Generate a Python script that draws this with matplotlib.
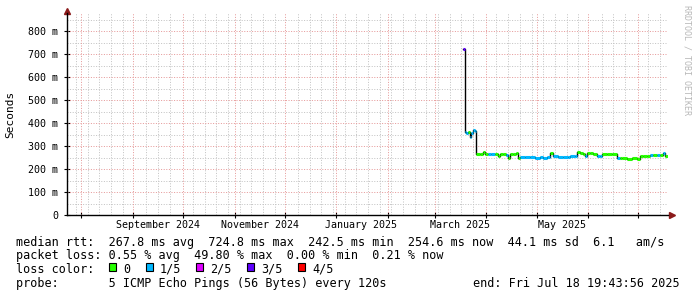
import matplotlib
matplotlib.use("Agg")
import matplotlib.pyplot as plt
import matplotlib.dates as mdates
import matplotlib.transforms as mtransforms
from matplotlib.patches import Rectangle

# median rtt (ms) with packet loss class (0..4 of 5 pings)
dates = ["2025-03-18", "2025-03-19", "2025-03-20", "2025-03-21", "2025-03-22",
         "2025-03-23", "2025-03-24", "2025-03-25", "2025-03-26", "2025-03-28",
         "2025-03-30", "2025-03-31", "2025-04-02", "2025-04-04", "2025-04-06",
         "2025-04-08", "2025-04-09", "2025-04-11", "2025-04-13", "2025-04-14",
         "2025-04-15", "2025-04-17", "2025-04-19", "2025-04-20", "2025-04-21",
         "2025-04-24", "2025-04-27", "2025-04-30", "2025-05-03", "2025-05-05",
         "2025-05-07", "2025-05-09", "2025-05-11", "2025-05-14", "2025-05-17",
         "2025-05-20", "2025-05-21", "2025-05-24", "2025-05-25", "2025-05-27",
         "2025-05-29", "2025-05-30", "2025-05-31", "2025-06-02", "2025-06-04",
         "2025-06-06", "2025-06-08", "2025-06-09", "2025-06-12", "2025-06-15",
         "2025-06-18", "2025-06-20", "2025-06-21", "2025-06-24", "2025-06-27",
         "2025-06-30", "2025-07-02", "2025-07-04", "2025-07-06", "2025-07-08",
         "2025-07-10", "2025-07-12", "2025-07-14", "2025-07-16", "2025-07-17"]
median_ms = [724.8, 360, 358, 362, 340, 356, 372, 365, 266, 265,
             274, 266, 264, 265, 266, 258, 265, 266, 262, 250,
             267, 266, 268, 247, 253, 252, 254, 250, 253, 248,
             252, 271, 255, 253, 254, 252, 258, 259, 274, 272,
             267, 258, 268, 268, 266, 258, 259, 265, 267, 266,
             250, 249, 247, 246, 247, 244, 255, 257, 258, 261,
             260, 262, 261, 268, 259]
loss = [3, 1, 1, 0, 1, 1, 1, 1, 0, 0,
        0, 0, 1, 1, 0, 0, 0, 0, 1, 0,
        0, 0, 0, 0, 1, 1, 1, 1, 1, 1,
        1, 0, 1, 1, 1, 1, 1, 1, 0, 0,
        0, 1, 0, 0, 0, 1, 1, 0, 0, 0,
        1, 0, 0, 0, 0, 0, 0, 0, 0, 1,
        0, 1, 0, 1, 0]

loss_colors = ["#26ff00", "#00b8ff", "#dd00ff", "#5e00ff", "#ff0000"]
loss_names = ["0", "1/5", "2/5", "3/5", "4/5"]
y_ticks = [0, 100, 200, 300, 400, 500, 600, 700, 800]
month_labels = ["September 2024", "November 2024", "January 2025", "March 2025", "May 2025"]
month_label_dates = ["2024-09-16", "2024-11-16", "2025-01-16", "2025-03-16", "2025-05-16"]

t_start = mdates.datestr2num("2024-07-23 06:00")
t_end = mdates.datestr2num("2025-07-18 19:43:56")
d_start = mdates.num2date(t_start)
d_end = mdates.num2date(t_end)

mono = "DejaVu Sans Mono"
W, H = 697, 297
fig = plt.figure(figsize=(W / 100, H / 100), dpi=100)
fig.patch.set_facecolor("white")
ax = fig.add_axes([66.5 / W, (H - 215) / H, 601.5 / W, 202 / H])
ax.set_xlim(t_start, t_end)
ax.set_ylim(0, 880)
ax.set_facecolor("white")

# grid: gray minor (weekly / 50 ms), red major (monthly / 100 ms)
minor_c = "#c4c4c4"
major_c = "#e69a9a"
dots = (0, (1, 1.6))
weeks = mdates.WeekdayLocator(byweekday=mdates.MO).tick_values(d_start, d_end)
months = mdates.MonthLocator().tick_values(d_start, d_end)
months = [m for m in months if t_start < m < t_end]
for w in weeks:
    if t_start < w < t_end and min(abs(w - m) for m in months) > 1:
        ax.axvline(w, color=minor_c, lw=0.72, ls=dots, zorder=1)
for yv in range(50, 880, 100):
    ax.axhline(yv, color=minor_c, lw=0.72, ls=dots, zorder=1)
for m in months:
    ax.axvline(m, color=major_c, lw=0.72, ls=dots, zorder=2)
for yv in y_ticks[1:]:
    ax.axhline(yv, color=major_c, lw=0.72, ls=dots, zorder=2)

# median line: thin black steps and thick loss-coloured segments
x = [mdates.datestr2num(d) for d in dates]
xs = x + [t_end]
ax.step(xs, median_ms + [median_ms[-1]], where="post", color="black", lw=1.0, zorder=3)
for i in range(len(x)):
    ax.plot([xs[i], xs[i + 1]], [median_ms[i], median_ms[i]],
            color=loss_colors[loss[i]], lw=2.2, solid_capstyle="butt", zorder=4)

# axes
for s in ["top", "right"]:
    ax.spines[s].set_visible(False)
for s in ["left", "bottom"]:
    ax.spines[s].set_color("black")
    ax.spines[s].set_linewidth(1.0)
ax.set_yticks(y_ticks)
ax.set_yticklabels(["0"] + ["%d m" % v for v in y_ticks[1:]], fontfamily=mono, fontsize=7.2)
ax.set_xticks(months)
ax.set_xticklabels([])
ax.tick_params(axis="y", direction="inout", length=4, width=0.8, pad=4)
ax.tick_params(axis="x", direction="inout", length=4, width=0.8)

trans = mtransforms.blended_transform_factory(ax.transData, ax.transAxes)
for lab, d in zip(month_labels, month_label_dates):
    ax.text(mdates.datestr2num(d), -13 / 202, lab, transform=trans, ha="center",
            va="baseline", fontfamily=mono, fontsize=7.2)

ax.plot(0, 1.012, marker="^", color="#8b1a1a", ms=4, transform=ax.transAxes, clip_on=False)
ax.plot(1.007, 0, marker=">", color="#8b1a1a", ms=4, transform=ax.transAxes, clip_on=False)

fig.text(10 / W, 1 - 114 / H, "Seconds", rotation=90, ha="center", va="center",
         fontfamily=mono, fontsize=8)
fig.text(687 / W, 1 - 5 / H, "RRDTOOL / TOBI OETIKER", rotation=-90, ha="center", va="top",
         fontfamily=mono, fontsize=6, color="#b8b8b8")

# legend / statistics block
fs = 8.5
fig.text(16 / W, 1 - 246 / H,
         "median rtt:  267.8 ms avg  724.8 ms max  242.5 ms min  254.6 ms now  44.1 ms sd  6.1   am/s",
         fontfamily=mono, fontsize=fs, va="baseline")
fig.text(16 / W, 1 - 259.5 / H,
         "packet loss: 0.55 % avg  49.80 % max  0.00 % min  0.21 % now",
         fontfamily=mono, fontsize=fs, va="baseline")
fig.text(16 / W, 1 - 273 / H, "loss color:", fontfamily=mono, fontsize=fs, va="baseline")
box_x = [109, 146, 196, 247, 298]
for bx, c, name in zip(box_x, loss_colors, loss_names):
    fig.patches.append(Rectangle((bx / W, 1 - 271 / H), 7 / W, 8 / H, transform=fig.transFigure,
                                 facecolor=c, edgecolor="black", lw=0.8))
    fig.text((bx + 14) / W, 1 - 273 / H, name, fontfamily=mono, fontsize=fs, va="baseline")
fig.text(16 / W, 1 - 287 / H, "probe:       5 ICMP Echo Pings (56 Bytes) every 120s",
         fontfamily=mono, fontsize=fs, va="baseline")
fig.text(680 / W, 1 - 287 / H, "end: Fri Jul 18 19:43:56 2025",
         fontfamily=mono, fontsize=fs, va="baseline", ha="right")

fig.savefig("out.png", dpi=100)
